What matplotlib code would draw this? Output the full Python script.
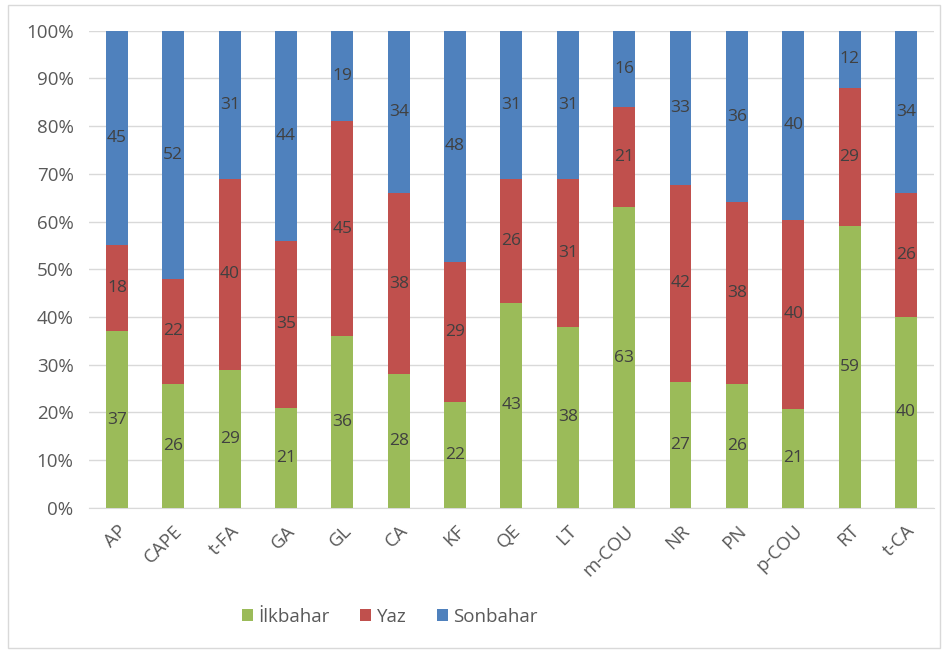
import matplotlib
matplotlib.use("Agg")
import matplotlib.pyplot as plt
import numpy as np
from matplotlib.patches import Rectangle

categories = ["AP", "CAPE", "t-FA", "GA", "GL", "CA", "KF", "QE", "LT", "m-COU", "NR", "PN", "p-COU", "RT", "t-CA"]
ilkbahar = [37, 26, 29, 21, 36, 28, 22, 43, 38, 63, 27, 26, 21, 59, 40]
yaz = [18, 22, 40, 35, 45, 38, 29, 26, 31, 21, 42, 38, 40, 29, 26]
sonbahar = [45, 52, 31, 44, 19, 34, 48, 31, 31, 16, 33, 36, 40, 12, 34]
series_names = ["İlkbahar", "Yaz", "Sonbahar"]
colors = ["#9BBB59", "#C0504D", "#4F81BD"]

plt.rcParams['font.family'] = ['Open Sans', 'DejaVu Sans']

fig = plt.figure(figsize=(9.46, 6.52), dpi=100)
fig.patches.append(Rectangle((0.008, 0.006), 0.986, 0.986, transform=fig.transFigure,
                             fill=False, edgecolor="#d9d9d9", linewidth=1.0))
ax = fig.add_axes([0.0939, 0.221, 0.8935, 0.732])

data = np.array([ilkbahar, yaz, sonbahar], dtype=float)
totals = data.sum(axis=0)
pct = data / totals * 100
x = np.arange(len(categories))
bottom = np.zeros(len(categories))
for i in range(3):
    ax.bar(x, pct[i], bottom=bottom, width=0.39, color=colors[i], label=series_names[i], zorder=3)
    for j in range(len(categories)):
        ax.text(x[j], bottom[j] + pct[i][j] / 2, f"{int(data[i][j])}", ha="center", va="center",
                fontsize=12.5, color="#404040", zorder=4)
    bottom += pct[i]

ax.set_xlim(-0.5, len(categories) - 0.5)
ax.set_ylim(0, 100)
ax.set_yticks(np.arange(0, 101, 10))
ax.set_yticklabels([f"{v}%" for v in range(0, 101, 10)])
ax.set_xticks(x)
ax.set_xticklabels(categories, rotation=45, ha="right", rotation_mode="anchor")
ax.tick_params(axis="both", length=0, labelsize=13.5, colors="#595959")
ax.tick_params(axis="y", pad=11)
ax.tick_params(axis="x", pad=10)
ax.grid(axis="y", color="#d9d9d9", linewidth=1.0, zorder=0)
for s in ["top", "right", "left"]:
    ax.spines[s].set_visible(False)
ax.spines["bottom"].set_color("#d9d9d9")

handles, labels = ax.get_legend_handles_labels()
leg = fig.legend(handles, labels, loc="center", bbox_to_anchor=(0.412, 0.054), ncol=3, frameon=False,
                 fontsize=13.5, handlelength=0.6, handleheight=0.6, handletextpad=0.3, columnspacing=1.6)
for t in leg.get_texts():
    t.set_color("#595959")

fig.savefig("out.png", dpi=100)
